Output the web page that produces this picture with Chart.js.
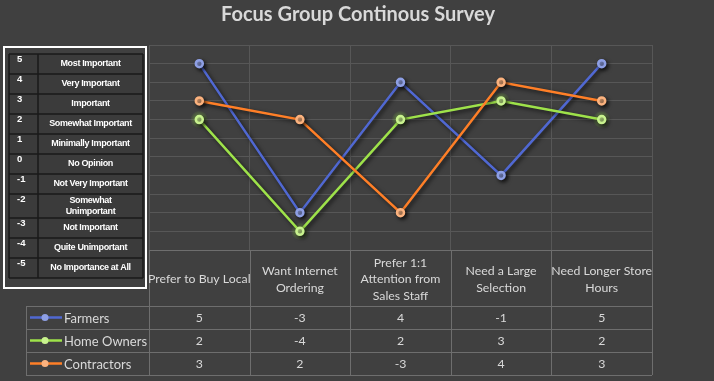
<!DOCTYPE html>
<html>
<head>
<meta charset="utf-8">
<script src="https://cdn.jsdelivr.net/npm/chart.js@4.4.1/dist/chart.umd.min.js"></script>
<style>
  html, body { margin: 0; padding: 0; background: #404040; }
  canvas { display: block; }
</style>
</head>
<body>
<canvas id="grafico" width="714" height="381"></canvas>
<script>
// datos del gráfico
const titulo = "Focus Group Continous Survey";
const categorias = [
  ["Prefer to Buy Local"],
  ["Want Internet", "Ordering"],
  ["Prefer 1:1", "Attention from", "Sales Staff"],
  ["Need a Large", "Selection"],
  ["Need Longer Store", "Hours"]
];
const nombresSeries = ["Farmers", "Home Owners", "Contractors"];
const farmers = [5, -3, 4, -1, 5];
const homeOwners = [2, -4, 2, 3, 2];
const contractors = [3, 2, -3, 4, 3];

// cuadro de la escala (izquierda)
const escalaValores = ["5", "4", "3", "2", "1", "0", "-1", "-2", "-3", "-4", "-5"];
const escalaTextos = [
  ["Most Important"], ["Very Important"], ["Important"], ["Somewhat Important"],
  ["Minimally Important"], ["No Opinion"], ["Not Very Important"],
  ["Somewhat", "Unimportant"], ["Not Important"], ["Quite Unimportant"],
  ["No Importance at All"]
];

const colLinea = ["#5068d2", "#9ee24a", "#ff7f27"];
const colPunto = ["#8e9fe4", "#c8f28e", "#fbb27e"];

// sombra de las lineas (y brillo verde en los puntos de Home Owners)
const sombra = {
  id: "sombra",
  beforeDatasetDraw(chart, args) {
    const ctx = chart.ctx;
    if (args.index === 1) {
      ctx.save();
      for (const p of args.meta.data) {
        const g = ctx.createRadialGradient(p.x, p.y, 2, p.x, p.y, 9);
        g.addColorStop(0, "rgba(150,220,80,0.55)");
        g.addColorStop(1, "rgba(150,220,80,0)");
        ctx.fillStyle = g;
        ctx.beginPath();
        ctx.arc(p.x, p.y, 9, 0, Math.PI * 2);
        ctx.fill();
      }
      ctx.restore();
    }
    ctx.save();
    ctx.shadowColor = "rgba(0,0,0,0.7)";
    ctx.shadowBlur = 4;
    ctx.shadowOffsetX = 2;
    ctx.shadowOffsetY = 2;
  },
  afterDatasetDraw(chart) {
    chart.ctx.restore();
  }
};

// tabla de datos debajo y cuadro de escala
const tablas = {
  id: "tablas",
  afterDraw(chart) {
    const ctx = chart.ctx;
    const area = chart.chartArea;
    const ancho = area.width / categorias.length;
    const yCab = area.bottom;
    const altoCab = 56;
    const altoFila = 23;
    const xLeyenda = 26;
    const datos = chart.data.datasets;

    ctx.save();
    // titulo
    ctx.fillStyle = "#d9d9d9";
    ctx.font = "bold 20px Lato";
    ctx.textAlign = "center";
    ctx.textBaseline = "middle";
    ctx.fillText(titulo, 358, 15);

    // lineas de la tabla
    ctx.strokeStyle = "#6e6e6e";
    ctx.lineWidth = 1;
    const yFin = yCab + altoCab + altoFila * datos.length;
    ctx.beginPath();
    for (let i = 0; i <= categorias.length; i++) {
      const x = Math.round(area.left + i * ancho) + 0.5;
      ctx.moveTo(x, yCab);
      ctx.lineTo(x, yFin);
    }
    ctx.moveTo(area.left, yCab + 0.5);
    ctx.lineTo(area.right, yCab + 0.5);
    for (let r = 0; r <= datos.length; r++) {
      const y = Math.round(yCab + altoCab + r * altoFila) + 0.5;
      ctx.moveTo(xLeyenda, y);
      ctx.lineTo(area.right, y);
    }
    ctx.moveTo(xLeyenda + 0.5, yCab + altoCab);
    ctx.lineTo(xLeyenda + 0.5, yFin);
    ctx.stroke();

    // encabezados
    ctx.fillStyle = "#d9d9d9";
    ctx.font = "12.3px Lato";
    categorias.forEach((lineas, i) => {
      const cx = area.left + (i + 0.5) * ancho;
      const y0 = yCab + altoCab / 2 + 1.5 - (lineas.length - 1) * 16.5 / 2;
      lineas.forEach((t, k) => ctx.fillText(t, cx, y0 + k * 16.5));
    });

    // filas de valores
    datos.forEach((ds, r) => {
      const cy = yCab + altoCab + (r + 0.5) * altoFila;
      ctx.fillStyle = "#d9d9d9";
      ctx.textAlign = "center";
      ds.data.forEach((v, i) => {
        ctx.fillText(String(v), area.left + (i + 0.5) * ancho, cy + 1);
      });
      // clave de leyenda
      ctx.strokeStyle = ds.borderColor;
      ctx.lineWidth = 2.5;
      ctx.beginPath();
      ctx.moveTo(30, cy);
      ctx.lineTo(62, cy);
      ctx.stroke();
      ctx.fillStyle = ds.pointBackgroundColor;
      ctx.beginPath();
      ctx.arc(45, cy, 3.5, 0, Math.PI * 2);
      ctx.fill();
      ctx.fillStyle = "#d9d9d9";
      ctx.textAlign = "left";
      ctx.font = "13px Lato";
      ctx.fillText(ds.label, 64, cy + 1);
      ctx.font = "12.3px Lato";
    });

    // cuadro de escala
    ctx.strokeStyle = "#ffffff";
    ctx.lineWidth = 2;
    ctx.strokeRect(4, 47, 142, 241);
    const filas = [54, 74, 94, 114, 134, 154, 174, 194, 218, 238, 258, 278];
    const xI = 9, xM = 38, xD = 143;
    ctx.fillStyle = "#3b3b3b";
    ctx.fillRect(xI, filas[0], xD - xI, filas[filas.length - 1] - filas[0]);
    ctx.strokeStyle = "#1a1a1a";
    ctx.lineWidth = 1.5;
    ctx.beginPath();
    filas.forEach(y => { ctx.moveTo(xI, y); ctx.lineTo(xD, y); });
    [xI, xM, xD].forEach(x => { ctx.moveTo(x, filas[0]); ctx.lineTo(x, filas[filas.length - 1]); });
    ctx.stroke();
    ctx.fillStyle = "#ffffff";
    escalaValores.forEach((v, i) => {
      ctx.letterSpacing = "0px";
      ctx.font = "bold 9.5px 'Liberation Sans'";
      ctx.textAlign = "left";
      ctx.fillText(v, 17, filas[i] + 5);
      ctx.font = "bold 9px 'Liberation Sans'";
      ctx.letterSpacing = "-0.35px";
      ctx.textAlign = "center";
      const lineas = escalaTextos[i];
      const cy = (filas[i] + filas[i + 1]) / 2;
      const y0 = cy - (lineas.length - 1) * 11 / 2;
      lineas.forEach((t, k) => ctx.fillText(t, (xM + xD) / 2, y0 + k * 11));
    });
    ctx.restore();
  }
};

const ctx = document.getElementById("grafico").getContext("2d");
const valores = [farmers, homeOwners, contractors];

window.graficoChart = new Chart(ctx, {
  type: "line",
  data: {
    labels: categorias,
    datasets: nombresSeries.map((n, i) => ({
      label: n,
      data: valores[i],
      borderColor: colLinea[i],
      backgroundColor: colLinea[i],
      pointBackgroundColor: colPunto[i],
      pointBorderColor: colPunto[i],
      pointRadius: 3.5,
      borderWidth: 2.5,
      tension: 0,
      order: 3 - i
    }))
  },
  options: {
    responsive: false,
    animation: false,
    devicePixelRatio: 1,
    layout: { padding: { left: 149, right: 62, top: 45, bottom: 131 } },
    plugins: {
      legend: { display: false },
      title: { display: false },
      tooltip: { enabled: false }
    },
    scales: {
      x: {
        offset: true,
        grid: { offset: true, color: "#575757", drawTicks: false },
        border: { display: false },
        ticks: { display: false }
      },
      y: {
        min: -5,
        max: 6,
        ticks: { display: false, stepSize: 1 },
        grid: { color: "#575757", drawTicks: false },
        border: { display: false }
      }
    }
  },
  plugins: [sombra, tablas]
});
</script>
</body>
</html>
